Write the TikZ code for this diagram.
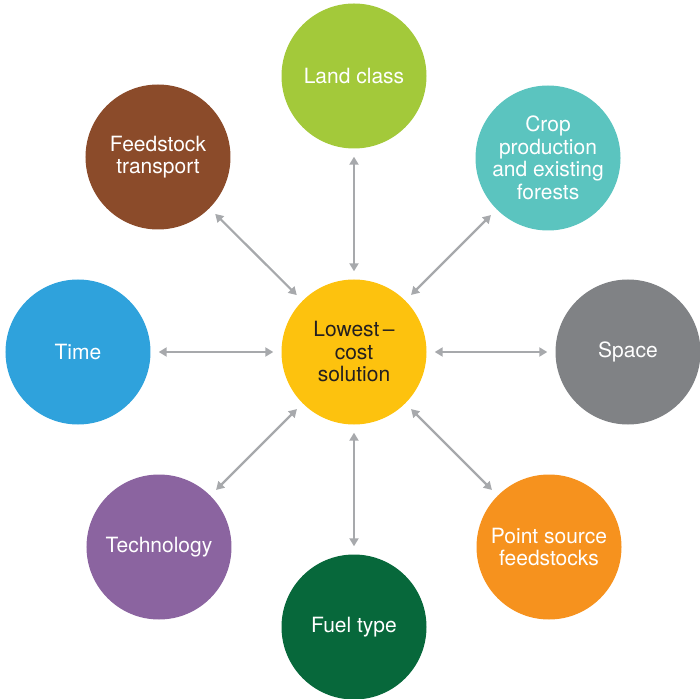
\documentclass[tikz,border=0pt]{standalone}
\usepackage{fontspec}
\setmainfont{TeX Gyre Heros}
\usepackage{tikz}
\usetikzlibrary{shapes.geometric, arrows.meta, positioning}
\definecolor{lowyellow}{HTML}{FDC20E}
\definecolor{landgreen}{HTML}{A3C93A}
\definecolor{cropteal}{HTML}{5BC4BF}
\definecolor{spacegray}{HTML}{808285}
\definecolor{pointorange}{HTML}{F6921E}
\definecolor{fuelgreen}{HTML}{07683B}
\definecolor{techpurple}{HTML}{8B64A0}
\definecolor{timeblue}{HTML}{2FA2DC}
\definecolor{feedbrown}{HTML}{8B4B2A}
\definecolor{arrowgray}{HTML}{A7A9AC}
\definecolor{textdark}{HTML}{231F20}
\tikzstyle{arrow} = [line width=2.2pt, draw=arrowgray, <->, >={Triangle[length=8pt, width=9pt]}, shorten >=8pt, shorten <=8pt]
\tikzstyle{factor} = [circle, minimum size=145pt, inner sep=0pt, align=center, text=white, font=\fontsize{21}{22.5}\selectfont]

\begin{document}
\begin{tikzpicture}[x=1pt, y=1pt, on grid]
		\useasboundingbox (-354,-346) rectangle (346,352);
		\node (low) [factor, fill=lowyellow, text=textdark] {Lowest\,–\\cost\\solution};
		\node (land) [factor, fill=landgreen, above=276pt of low] {Land class};
		\node (crop) [factor, fill=cropteal, above right=194pt and 194pt of low] {Crop\\production\\and existing\\forests};
		\node (space) [factor, fill=spacegray, right=274pt of low] {Space};
		\node (point) [factor, fill=pointorange, below right=195pt and 195pt of low] {Point source\\feedstocks};
		\node (fuel) [factor, fill=fuelgreen, below=275pt of low] {Fuel type};
		\node (tech) [factor, fill=techpurple, below left=195pt and 195pt of low] {Technology};
		\node (time) [factor, fill=timeblue, left=276pt of low] {Time};
		\node (feed) [factor, fill=feedbrown, above left=195pt and 196pt of low] {Feedstock\\transport};
		\draw [arrow] (land) -- (low);
		\draw [arrow] (crop) -- (low);
		\draw [arrow] (space) -- (low);
		\draw [arrow] (point) -- (low);
		\draw [arrow] (fuel) -- (low);
		\draw [arrow] (tech) -- (low);
		\draw [arrow] (time) -- (low);
		\draw [arrow] (feed) -- (low);
\end{tikzpicture}
\end{document}
